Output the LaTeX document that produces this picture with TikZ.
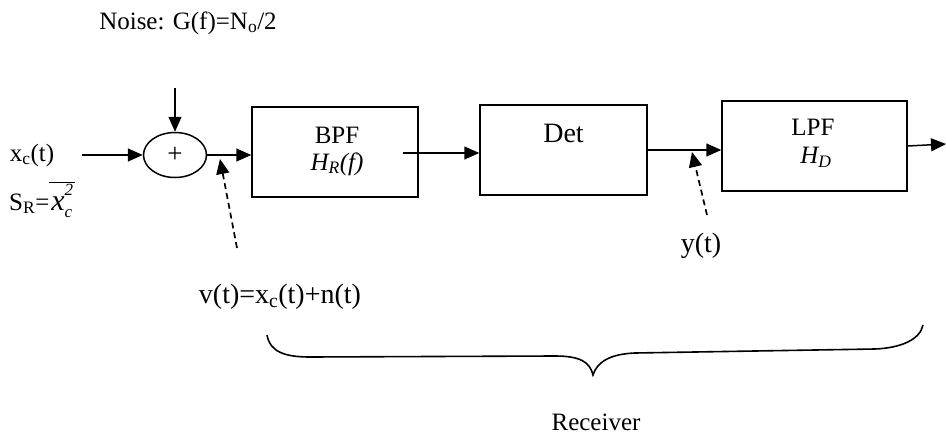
\documentclass[tikz,border=0pt]{standalone}
\usepackage{fontspec}
\setmainfont{Liberation Serif}
\usetikzlibrary{arrows.meta,calc,shapes.geometric}
\tikzset{
  blk/.style={draw, line width=1.5pt, minimum width=#1, minimum height=90pt, inner sep=0pt},
  lbl/.style={inner sep=0pt, font=\fontsize{25}{27}\selectfont},
  biglbl/.style={inner sep=0pt, font=\fontsize{28}{30}\selectfont},
  wire/.style={line width=1.5pt, -{Triangle[length=15pt,width=13pt]}},
  dwire/.style={line width=1.7pt, dash pattern=on 6pt off 4pt, -{Triangle[length=15pt,width=13pt]}},
}
\newcommand{\xcsq}{\hbox{\kern2pt\fontsize{30}{32}\selectfont\itshape x\rlap{\raisebox{0.5em}{\fontsize{17}{17}\selectfont 2}}\raisebox{-0.25em}{\fontsize{17}{17}\selectfont c}\kern3pt}}
\begin{document}
\begin{tikzpicture}[x=1pt,y=-1pt]
\useasboundingbox (0,0) rectangle (946,434);
% blocks
\node[draw, ellipse, line width=1.5pt, minimum width=63pt, minimum height=45pt, inner sep=0pt] (sum) at (175,155) {\fontsize{27}{29}\selectfont +};
\node[blk=166pt] (bpf) at (335,152) {};
\node[blk=167pt] (det) at (563.5,150) {};
\node[blk=185pt] (lpf) at (814.5,146) {};
% block texts
\node[lbl] (bpft) at (337,135) {BPF};
\node[lbl] (bpfh) at (337,164) {\itshape H\textsubscript{R}(f)};
\node[biglbl] (dett) at (563.5,133) {Det};
\node[lbl] (lpft) at (813,127) {LPF};
\node[lbl] (lpfh) at (816,157) {\itshape H\textsubscript{D}};
% other labels
\node[lbl] (noise) at (188,23) {Noise: G(f)=N\textsubscript{o}/2};
\node[lbl] (xc) at (32,155) {x\textsubscript{c}(t)};
\node[lbl, anchor=base west] (sr) at (9,210) {S\textsubscript{R}=$\overline{\xcsq}$};
\node[biglbl] (vt) at (280,297) {v(t)=x\textsubscript{c}(t)+n(t)};
\node[biglbl] (yt) at (701,246) {y(t)};
\node[lbl] (rx) at (596,422) {Receiver};
% coordinates
\coordinate (ntop) at (175,88);
\coordinate (xin) at (82,155);
\coordinate (bpfo) at (403,153);
\coordinate (out) at (946,144);
\coordinate (d1s) at (237,248);
\coordinate (d1e) at (220,159);
\coordinate (d2s) at (707,215);
\coordinate (d2e) at (692,152);
% connectors
\draw[wire] (ntop) -- (sum.north);
\draw[wire] (xin) -- (sum.west);
\draw[wire] (sum.east) -- (sum.east -| bpf.west);
\draw[wire] (bpfo) -- (bpfo -| det.west);
\draw[wire] (det.east) -- (det.east -| lpf.west);
\draw[wire] (lpf.east) -- (out);
\draw[dwire] (d1s) -- (d1e);
\draw[dwire] (d2s) -- (d2e);
% brace
\draw[line width=1.6pt] (267,335) .. controls (270,352) and (285,357) .. (310,357) -- (555,356)
  .. controls (580,356) and (590,362) .. (593,375)
  .. controls (597,362) and (610,354) .. (635,353) -- (875,349)
  .. controls (900,348) and (920,340) .. (923,325);
\end{tikzpicture}
\end{document}
